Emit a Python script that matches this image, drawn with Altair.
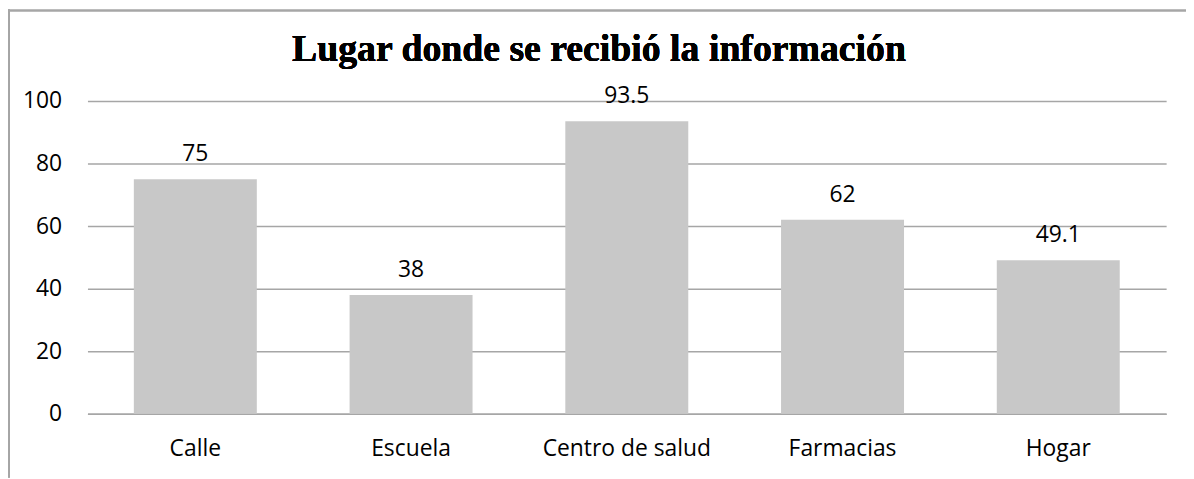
import altair as alt
import pandas as pd

categories = ["Calle", "Escuela", "Centro de salud", "Farmacias", "Hogar"]
values = [75, 38, 93.5, 62, 49.1]
labels = ["75", "38", "93.5", "62", "49.1"]
title_text = "Lugar donde se recibió la información"

df = pd.DataFrame({"cat": categories, "val": values, "lab": labels})

W, H = 1086, 315
PL, PT, PR, PB = 80, 92, 20, 64
FONT = "Open Sans"
FS = 23
GRID = "#a6a6a6"

base = alt.Chart(df)

bars = base.mark_bar(color="#c8c8c8").encode(
    x=alt.X("cat:N", sort=categories, title=None,
            scale=alt.Scale(paddingInner=0.43, paddingOuter=0.215),
            axis=alt.Axis(labelAngle=0, labelFont=FONT, labelFontSize=FS,
                          labelColor="#000000", labelPadding=24, ticks=False,
                          domain=True, domainColor=GRID, domainWidth=1.5)),
    y=alt.Y("val:Q", title=None,
            scale=alt.Scale(domain=[0, 100], nice=False),
            axis=alt.Axis(values=[0, 20, 40, 60, 80, 100], labelFont=FONT,
                          labelFontSize=FS, labelColor="#000000", labelPadding=26,
                          ticks=False, domain=False, grid=True, gridColor=GRID,
                          gridWidth=1.5)),
)

text = base.mark_text(font=FONT, fontSize=FS, color="#000000",
                      baseline="alphabetic", dy=-18).encode(
    x=alt.X("cat:N", sort=categories),
    y="val:Q",
    text="lab:N",
)

title = base.mark_text(font="Liberation Serif", fontSize=38, fontWeight="bold",
                       color="#000000", baseline="alphabetic", align="center").encode(
    x=alt.value(515), y=alt.value(-40), text=alt.value(title_text)
)

border_left = base.mark_rule(color=GRID, strokeWidth=1.5).encode(
    x=alt.value(-79), y=alt.value(-92), y2=alt.value(H + PB)
)
border_top = base.mark_rule(color=GRID, strokeWidth=1.5).encode(
    x=alt.value(-80), x2=alt.value(W + PR), y=alt.value(-91)
)

chart = alt.layer(bars, text, title, border_left, border_top).properties(
    width=W, height=H,
    autosize=alt.AutoSizeParams(type="none"),
    padding={"left": PL, "top": PT, "right": PR, "bottom": PB},
).configure_view(stroke=None).configure_axis(gridCap="butt")

chart.save("out.html", embed_options={"renderer": "svg", "actions": False})
